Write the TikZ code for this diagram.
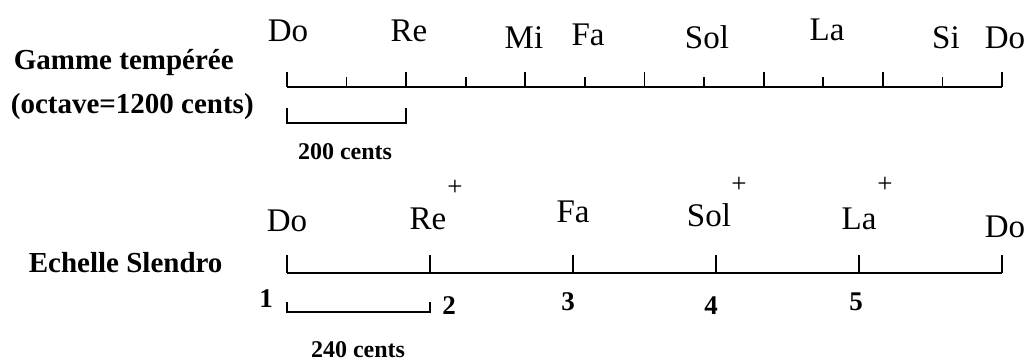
\documentclass[tikz,border=0pt]{standalone}
\usepackage{fontspec}
\setmainfont{Liberation Serif}
\begin{document}
\begin{tikzpicture}[x=1pt,y=-1pt,line width=1.7pt,
  note/.style={inner sep=0pt,anchor=base,font=\fontsize{33}{33}\selectfont},
  lab/.style={inner sep=0pt,anchor=base west,font=\bfseries\fontsize{29}{29}\selectfont},
  cents/.style={inner sep=0pt,anchor=base,font=\bfseries\fontsize{24}{24}\selectfont},
  num/.style={inner sep=0pt,anchor=base,font=\bfseries\fontsize{27}{27}\selectfont},
  plus/.style={inner sep=0pt,font=\fontsize{27}{27}\selectfont}]
\useasboundingbox[fill=white] (0,0) rectangle (1034,363);

% left labels
\node[lab] (gt) at (13,70) {Gamme tempérée};
\node[lab] (oc) at (10,114) {(octave=1200 cents)};
\node[lab] (es) at (28,273) {Echelle Slendro};

% top scale
\coordinate (t0) at (287,87);
\coordinate (t12) at (1002,87);
\draw (t0) -- (t12);
\foreach \i in {0,...,12}{
  \pgfmathsetmacro{\xx}{287+\i*59.583}
  \pgfmathsetmacro{\yy}{mod(\i,2)==0 ? 72 : 77}
  \draw (\xx,87) -- (\xx,\yy);
}
\node[note] (tdo) at (288,42) {Do};
\node[note] (tre) at (409,42) {Re};
\node[note] (tmi) at (524,49) {Mi};
\node[note] (tfa) at (588,46) {Fa};
\node[note] (tsol) at (707,49) {Sol};
\node[note] (tla) at (827,41) {La};
\node[note] (tsi) at (946,49) {Si};
\node[note] (tdo2) at (1005,49) {Do};

% 200 cents bracket
\coordinate (b1a) at (287,108);
\coordinate (b1b) at (406,108);
\draw (b1a) -- (287,123) -- (406,123) -- (b1b);
\node[cents] (c200) at (345,160) {200 cents};

% bottom scale
\coordinate (s0) at (287,273);
\coordinate (s5) at (1002,273);
\draw (s0) -- (s5);
\foreach \i in {0,...,5}{
  \pgfmathsetmacro{\xx}{287+\i*143}
  \draw (\xx,273) -- (\xx,255);
}
\node[note] (bdo) at (287,232) {Do};
\node[note] (bre) at (428,230) {Re};
\node[plus] (pre) at (455,188) {+};
\node[note] (bfa) at (573,223) {Fa};
\node[note] (bsol) at (709,227) {Sol};
\node[plus] (psol) at (739,185) {+};
\node[note] (bla) at (859,230) {La};
\node[plus] (pla) at (885,185) {+};
\node[note] (bdo2) at (1005,238) {Do};

% numbers
\node[num] (n1) at (266,308) {1};
\node[num] (n2) at (449,315) {2};
\node[num] (n3) at (568,311) {3};
\node[num] (n4) at (711,315) {4};
\node[num] (n5) at (856,311) {5};

% 240 cents bracket
\coordinate (b2a) at (287,302);
\coordinate (b2b) at (430,302);
\draw (b2a) -- (287,312) -- (430,312) -- (b2b);
\node[cents] (c240) at (358,358) {240 cents};
\end{tikzpicture}
\end{document}
